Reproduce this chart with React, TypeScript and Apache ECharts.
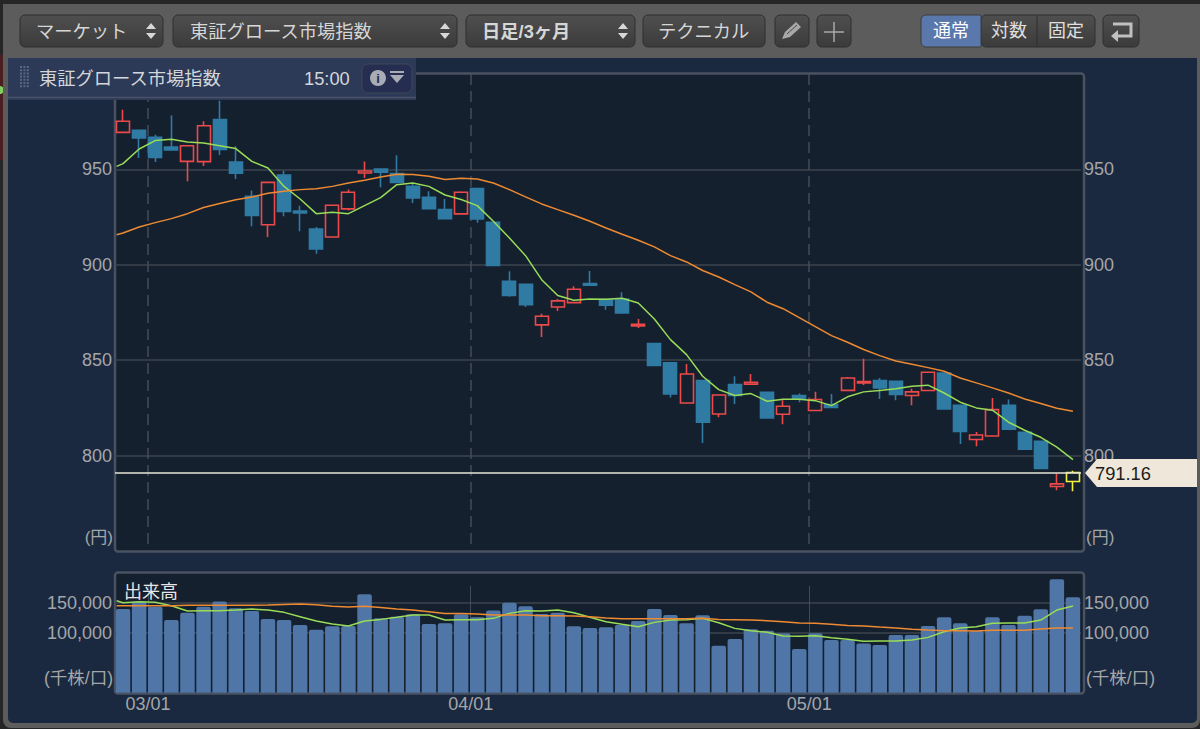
import React, { useEffect, useRef } from "react";
import * as echarts from "echarts";

// [open, close, low, high]
const candles: number[][] = [
  [969.4, 975.2, 969.4, 981.3], [970.5, 966.5, 956, 970.5], [966.8, 956.3, 953.9, 968.2], [961.7, 960.2, 960, 978.3],
  [954.2, 962.4, 943.8, 962.4], [954.1, 972.9, 951.8, 975.2], [976.1, 960.4, 957.6, 986], [953.9, 948, 945, 962.1],
  [935.9, 925.8, 920.2, 938.9], [921, 943.2, 914.6, 943.2], [947.1, 928, 925.4, 949.3], [928.2, 927.2, 917.6, 931],
  [918.8, 908.3, 905.8, 919.8], [914.6, 931.2, 914.6, 931.2], [929.3, 938, 928.4, 939.4], [948.1, 949.2, 945.5, 954.2],
  [950.2, 948.5, 940.6, 950.2], [947.8, 943.2, 943.2, 957.4], [941.1, 935, 932.4, 942.5], [935.4, 929.4, 929.4, 938.5],
  [929, 924.1, 924.1, 934.5], [926.7, 938, 926.7, 938.5], [939.9, 924, 922, 939.9], [922.3, 899.6, 899.6, 922.3],
  [891.4, 884, 883.2, 896.6], [889.8, 879.1, 877.9, 889.8], [868.5, 873, 862.2, 874.4], [877.9, 881.1, 875.8, 882.1],
  [880.2, 887.2, 880.2, 888.8], [890.2, 889.3, 889.3, 896.8], [881.8, 878.8, 876.5, 881.8], [882.1, 874.8, 874.8, 885.6],
  [868, 868.8, 866.9, 871.6], [858.7, 847.3, 847.3, 859], [848.6, 832.3, 830.4, 849.1], [827.6, 842.8, 827.6, 848],
  [839.3, 817.5, 806.6, 839.3], [821.8, 831.8, 820.1, 831.8], [837.2, 831.5, 827.1, 841.6], [837.4, 838.4, 837.4, 842.8],
  [833.2, 819.7, 819.7, 833.2], [821.7, 825.9, 816.4, 829], [831.5, 830.1, 828, 832.5], [823.6, 829.4, 823.3, 833.4],
  [826.7, 825.2, 825.2, 832.3], [834.2, 840.7, 834.2, 841.2], [838.1, 838.8, 837, 850.7], [839.3, 835.5, 829.7, 840.7],
  [839, 832, 829, 839], [831.5, 833.4, 826.4, 835], [834.1, 843.7, 834.1, 843.7], [843.3, 824.5, 824.5, 843.3],
  [826.4, 812.6, 806.1, 826.4], [808.4, 810.8, 804.9, 812.4], [810.3, 824.1, 810.3, 830.2], [826.4, 813.8, 813.8, 829.4],
  [812.2, 803.3, 803.3, 812.2], [807.5, 793.2, 792.8, 807.5], [783.8, 785.2, 781.8, 790.6], [786.4, 791.16, 781.3, 792],
];
const priceShortMA = [
  953, 960.7, 965.1, 965.8, 964.4, 963.8, 962.4, 960.9, 954.2, 950.7, 941.1, 934.5, 926.8, 927.5, 926.8, 931, 935.2, 942, 942.9, 941.1,
  936.6, 934.2, 931, 922.8, 914.1, 904.8, 892.2, 883.9, 881.4, 882.1, 881.9, 882.5, 880, 871.6, 860.8, 852.9, 841.6, 834.6, 831.5, 832.5,
  828.5, 829.5, 829.5, 828.8, 826.2, 830.8, 833.4, 834.1, 835, 836.3, 836.9, 832.8, 828, 825, 823.8, 817.5, 813.3, 809.6, 804.4, 797.9,
];
const priceLongMA = [
  916.7, 919.8, 922.1, 924.2, 926.8, 930, 932.1, 934.1, 935.5, 937.5, 938.5, 939.4, 939.9, 941.1, 942.9, 944.3, 946, 947.4, 947.3, 946.4,
  944.7, 945.4, 945, 942.9, 939.4, 935.6, 931.9, 928.9, 926, 922.8, 919.3, 916, 912.9, 909.4, 904.8, 901.5, 897, 893.6, 889.6, 885.8,
  880.4, 877, 872.3, 867.6, 862.9, 859.4, 855.6, 852.4, 849.6, 847.9, 846.1, 844.2, 840.7, 838.1, 835.5, 832.8, 829.7, 827.3, 824.8, 823.2,
];
const volumes = [
  139400, 151700, 143300, 121100, 133300, 143300, 152200, 140600, 136100, 122800, 121100, 112800, 105000, 110600, 111100, 163900, 123900, 126700, 130600, 114400,
  115600, 130600, 125600, 137200, 150000, 143900, 131100, 133300, 110600, 107800, 108900, 112800, 119400, 139400, 129400, 115600, 128900, 78300, 89400, 105600,
  103300, 98900, 72800, 98900, 87800, 87800, 82200, 79400, 96100, 96100, 111100, 125600, 115600, 102800, 125600, 112800, 128300, 138900, 188900, 158900,
];
const volumeShortMA = [
  150000, 151700, 150600, 145000, 136100, 136700, 136700, 137800, 139400, 137800, 133900, 126700, 119400, 114400, 111100, 119400, 122200, 125600, 129400, 129400,
  121100, 121700, 121700, 123900, 132200, 136700, 136100, 137800, 133300, 125600, 118300, 113900, 110000, 117200, 121100, 121700, 123900, 116700, 107200, 103300,
  100600, 94400, 93900, 95000, 91700, 88900, 85600, 86100, 86100, 87800, 92200, 101700, 107800, 110000, 115600, 116100, 116100, 121100, 137800, 144400,
];
const volumeLongMA = [
  145000, 145000, 145000, 145000, 145600, 145600, 145600, 145600, 145600, 146000, 147200, 147800, 146700, 143900, 142800, 143900, 142200, 139400, 137800, 135000,
  132200, 132200, 131100, 129400, 129400, 129400, 128300, 128300, 127800, 126700, 124400, 123300, 123300, 123300, 123300, 123300, 123900, 122200, 121700, 121100,
  120000, 118300, 116100, 115600, 113900, 112200, 111100, 109400, 107800, 105600, 104400, 103300, 103300, 102800, 103900, 103900, 103900, 106100, 107800, 107800,
];
// values of each moving average where it enters the plot, just before the first candle
const priceShortLead = 951.6;
const priceLongLead = 915.8;
const volumeShortLead = 153300;
const volumeLongLead = 145000;
const leadPosition = -0.4;
const dayLabels = candles.map((_, i) => String(i));
const monthTicks = [1.55, 21.59, 42.62];
const monthLabels = ["03/01", "04/01", "05/01"];
const monthLineTop = 178000;
const priceTicks = [800, 850, 900, 950];
const volumeTicks = [100000, 150000];
const lastPrice = 791.16;
const priceUnit = "(円)";
const volumeUnit = "(千株/口)";
const volumeTitle = "出来高";
const indexName = "東証グロース市場指数";
const timeLabel = "15:00";
const toolbarButtons = [
  { t: "マーケット", x: 20, w: 143, tx: 36, arrows: true },
  { t: indexName, x: 173, w: 284, tx: 190, arrows: true },
  { t: "日足/3ヶ月", x: 466, w: 169, tx: 482, arrows: true, bold: true },
  { t: "テクニカル", x: 643, w: 122, tx: 658, arrows: false },
];

const FONT = '"Liberation Sans", "Noto Sans CJK JP", sans-serif';
const GREY = "#a4a6a8";
const GREEN = "#98dc58";
const ORANGE = "#ee8a32";
const RED = "#ec4a4a";
const BLUE = "#2f7ba3";
const GRID = "#3d434e";
const BORDER = "#4a5261";

const gradientBtn = () =>
  new echarts.graphic.LinearGradient(0, 0, 0, 1, [
    { offset: 0, color: "#4f4f4f" },
    { offset: 1, color: "#3b3b3b" },
  ]);

function buttonBox(x: number, y: number, w: number, h: number, fill: any = gradientBtn()) {
  return { type: "rect", shape: { x, y, width: w, height: h, r: 5 }, style: { fill, stroke: "#2f2f2f", lineWidth: 1 } };
}
function label(text: string, x: number, y: number, fill: string, size = 18, align = "left", weight: any = "normal") {
  return { type: "text", x, y, style: { text, fill, font: `${weight} ${size}px ${FONT}`, textAlign: align, textVerticalAlign: "middle" }, z: 20 };
}
function updown(cx: number) {
  return [
    { type: "polygon", shape: { points: [[cx - 5, 29], [cx + 5, 29], [cx, 23]] }, style: { fill: "#d8d8d8" } },
    { type: "polygon", shape: { points: [[cx - 5, 33], [cx + 5, 33], [cx, 39]] }, style: { fill: "#d8d8d8" } },
  ];
}

function behindGraphics() {
  const out: any[] = [
    { type: "rect", shape: { x: 0, y: 0, width: 1200, height: 729 }, style: { fill: "#262626" } },
    { type: "rect", shape: { x: 0, y: 55, width: 4, height: 105 }, style: { fill: "#4a1f22" } },
    { type: "circle", shape: { cx: 0, cy: 90, r: 4 }, style: { fill: "#7fd060" } },
    { type: "rect", shape: { x: 3, y: 4, width: 1197, height: 724, r: [0, 0, 8, 8] }, style: { fill: "#5c5c5c" } },
    { type: "rect", shape: { x: 8, y: 58, width: 1189, height: 665, r: [0, 0, 5, 5] }, style: { fill: "#1a2940" } },
    { type: "rect", shape: { x: 115, y: 73.5, width: 969, height: 478, r: 3 }, style: { fill: "#15202f", stroke: BORDER, lineWidth: 2.5 } },
    { type: "rect", shape: { x: 115, y: 572.5, width: 969, height: 121, r: 3 }, style: { fill: "#15202f", stroke: BORDER, lineWidth: 2.5 } },
  ];
  return out;
}

function frontGraphics() {
  const out: any[] = [];
  toolbarButtons.forEach((b: any) => {
    out.push(buttonBox(b.x, 15, b.w, 32));
    out.push(label(b.t, b.tx, 31, "#d6d6d6", 18.3, "left", b.bold ? "bold" : "normal"));
    if (b.arrows) out.push(...updown(b.x + b.w - 12));
  });
  out.push(buttonBox(775, 15, 34, 32));
  out.push({ type: "polygon", shape: { points: [[782, 39], [785, 32], [796, 22], [801, 27], [790, 37]] }, style: { fill: "#a8a8a8" } });
  out.push({ type: "line", shape: { x1: 787, y1: 34, x2: 797, y2: 25 }, style: { stroke: "#4a4a4a", lineWidth: 1 } });
  out.push(buttonBox(817, 15, 34, 32));
  out.push({ type: "line", shape: { x1: 834, y1: 22, x2: 834, y2: 42 }, style: { stroke: "#a8a8a8", lineWidth: 1.5 } });
  out.push({ type: "line", shape: { x1: 824, y1: 32, x2: 844, y2: 32 }, style: { stroke: "#a8a8a8", lineWidth: 1.5 } });
  out.push(buttonBox(981, 15, 114, 32));
  out.push({ type: "rect", shape: { x: 921, y: 15, width: 60, height: 32, r: [5, 0, 0, 5] }, style: { fill: "#5a78ac", stroke: "#3d3d3d" } });
  out.push({ type: "line", shape: { x1: 1037, y1: 15, x2: 1037, y2: 47 }, style: { stroke: "#2f2f2f", lineWidth: 1 } });
  out.push(label("通常", 951, 31, "#ffffff", 18, "center"));
  out.push(label("対数", 1009, 31, "#e0e0e0", 18, "center"));
  out.push(label("固定", 1066, 31, "#e0e0e0", 18, "center"));
  out.push(buttonBox(1103, 15, 36, 32));
  out.push({ type: "polyline", shape: { points: [[1113, 24], [1131, 24], [1131, 36], [1117, 36]] }, style: { stroke: "#c0c0c0", lineWidth: 3, fill: "none" } });
  out.push({ type: "polygon", shape: { points: [[1118, 30], [1118, 42], [1111, 36]] }, style: { fill: "#c0c0c0" } });
  // floating header
  out.push({ type: "rect", shape: { x: 8, y: 58, width: 408, height: 42 }, style: { fill: "#2c3a58" } });
  out.push({ type: "line", shape: { x1: 8, y1: 97.5, x2: 416, y2: 97.5 }, style: { stroke: "#4a5266", lineWidth: 1.5 } });
  for (let c = 0; c < 3; c++) {
    for (let r = 0; r < 7; r++) {
      out.push({ type: "rect", shape: { x: 20 + c * 3.4, y: 66 + r * 3.2, width: 2, height: 2 }, style: { fill: "#5c6680" } });
    }
  }
  out.push(label(indexName, 39, 78, "#d4d6da", 18.3));
  out.push(label(timeLabel, 304, 78, "#d4d6da", 18.3));
  out.push({ type: "rect", shape: { x: 362, y: 64, width: 50, height: 29, r: 6 }, style: { fill: "#252e50", stroke: "#3f4657" } });
  out.push({ type: "circle", shape: { cx: 378, cy: 78, r: 8 }, style: { fill: "#a9acb4" } });
  out.push(label("i", 378, 78, "#252e50", 13, "center", "bold"));
  out.push({ type: "rect", shape: { x: 390, y: 71, width: 14, height: 2 }, style: { fill: "#a9acb4" } });
  out.push({ type: "polygon", shape: { points: [[390, 75], [404, 75], [397, 83]] }, style: { fill: "#a9acb4" } });
  // last-price tag
  out.push({ type: "polygon", shape: { points: [[1085, 473], [1097, 459], [1197, 459], [1197, 487], [1097, 487]] }, style: { fill: "#efe7da" } });
  out.push(label(lastPrice.toFixed(2), 1095, 473.5, "#1c1c1c", 18.3));
  // unit and panel captions
  out.push(label(priceUnit, 113, 537, GREY, 17, "right"));
  out.push(label(priceUnit, 1086, 537, GREY, 17));
  out.push(label(volumeUnit, 113, 678, GREY, 17.5, "right"));
  out.push(label(volumeUnit, 1086, 678, GREY, 17.5));
  out.push(label(volumeTitle, 124, 591.5, "#e6e6e6", 18));
  return out;
}

const GRID_LEFT = 115;
const GRID_WIDTH = 966;
const priceAxis = (position: string, gridIndex: number, extent: number[], ticks: number[], fmt: (v: number) => string, lineOn: boolean) => ({
  type: "value",
  gridIndex,
  position,
  min: extent[0],
  max: extent[1],
  axisLine: { show: false },
  axisTick: { show: false, customValues: ticks },
  axisLabel: { customValues: ticks, color: GREY, fontSize: 18, fontFamily: FONT, margin: 3, formatter: fmt },
  splitLine: { show: lineOn, lineStyle: { color: GRID, width: 1.5 } },
});

const hiddenCategory = (gridIndex: number) => ({
  type: "category",
  gridIndex,
  data: dayLabels,
  show: false,
  boundaryGap: true,
});
const monthAxis = (gridIndex: number, showLabel: boolean, dashed: boolean) => ({
  type: "value",
  gridIndex,
  min: -0.5,
  max: 59.5,
  position: "bottom",
  axisLine: { show: false },
  axisTick: { show: false, customValues: monthTicks },
  axisLabel: {
    show: showLabel,
    customValues: monthTicks,
    color: GREY,
    fontSize: 18,
    fontFamily: FONT,
    margin: 2,
    formatter: (v: number) => monthLabels[monthTicks.indexOf(v)] ?? "",
  },
  splitLine: { show: dashed, lineStyle: { color: "#454b57", width: 1.5, type: [11, 6] } },
});

const maData = (values: number[], lead: number) => [[leadPosition, lead], ...values.map((v, i) => [i, v])];
const maLine = (name: string, values: number[], lead: number, color: string, xAxisIndex: number, yAxisIndex: number) => ({
  name,
  type: "line",
  xAxisIndex,
  yAxisIndex,
  data: maData(values, lead),
  showSymbol: false,
  symbol: "none",
  lineStyle: { color, width: 1.5 },
  itemStyle: { color },
  z: 5,
  silent: true,
});

export default function App() {
  const ref = useRef<HTMLDivElement>(null);
  useEffect(() => {
    document.body.style.margin = "0";
    document.body.style.background = "#262626";
    const chart = echarts.init(ref.current!, null, { renderer: "svg" });
    const candleData = candles.map((c, i) =>
      i === candles.length - 1
        ? { value: c, itemStyle: { color: "transparent", color0: BLUE, borderColor: "#f2f23c", borderColor0: BLUE } }
        : c,
    );
    const back = behindGraphics().map((e) => ({ ...e, silent: true, z: -5 }));
    const front = frontGraphics().map((e) => ({ ...e, silent: true, z: 100 + (e.z ?? 0) }));
    const monthLineSeries = {
      name: "月区切り",
      type: "line",
      xAxisIndex: 3,
      yAxisIndex: 2,
      data: [],
      silent: true,
      z: 1,
      markLine: {
        silent: true,
        symbol: "none",
        label: { show: false },
        lineStyle: { color: "#424958", width: 1, type: "solid" },
        z: 1,
        data: monthTicks.map((v) => [
          { xAxis: v, yAxis: 0 },
          { xAxis: v, yAxis: monthLineTop },
        ]),
      },
    };
    chart.setOption({
      animation: false,
      textStyle: { fontFamily: FONT },
      graphic: [...back, ...front],
      grid: [
        { left: GRID_LEFT, width: GRID_WIDTH, top: 74, height: 477, show: false },
        { left: GRID_LEFT, width: GRID_WIDTH, top: 572.7, height: 120, show: false },
      ],
      xAxis: [hiddenCategory(0), monthAxis(0, false, true), hiddenCategory(1), monthAxis(1, true, false)],
      yAxis: [
        priceAxis("left", 0, [750, 1000], priceTicks, (v) => String(v), true),
        priceAxis("right", 0, [750, 1000], priceTicks, (v) => String(v), false),
        priceAxis("left", 1, [0, 200000], volumeTicks, (v) => v.toLocaleString("en-US"), true),
        priceAxis("right", 1, [0, 200000], volumeTicks, (v) => v.toLocaleString("en-US"), false),
      ],
      series: [
        {
          name: "ローソク足",
          type: "candlestick",
          xAxisIndex: 0,
          yAxisIndex: 0,
          barWidth: 13.5,
          data: candleData,
          z: 3,
          silent: true,
          itemStyle: { color: "transparent", color0: BLUE, borderColor: RED, borderColor0: BLUE, borderWidth: 1.6 },
          markLine: {
            silent: true,
            symbol: "none",
            label: { show: false },
            lineStyle: { color: "#e8e4d8", width: 1.5, type: "solid" },
            data: [{ yAxis: lastPrice }],
            z: 8,
          },
        },
        maLine("短期移動平均", priceShortMA, priceShortLead, GREEN, 1, 0),
        maLine("長期移動平均", priceLongMA, priceLongLead, ORANGE, 1, 0),
        monthLineSeries,
        {
          name: "出来高",
          type: "bar",
          xAxisIndex: 2,
          yAxisIndex: 2,
          data: volumes,
          barWidth: 14.5,
          itemStyle: { color: "#4f76a6", borderRadius: [2, 2, 0, 0] },
          z: 3,
          silent: true,
        },
        maLine("出来高短期", volumeShortMA, volumeShortLead, GREEN, 3, 2),
        maLine("出来高長期", volumeLongMA, volumeLongLead, ORANGE, 3, 2),
      ],
    });
    return () => chart.dispose();
  }, []);
  return <div ref={ref} style={{ position: "absolute", left: 0, top: 0, width: 1200, height: 729 }} />;
}
